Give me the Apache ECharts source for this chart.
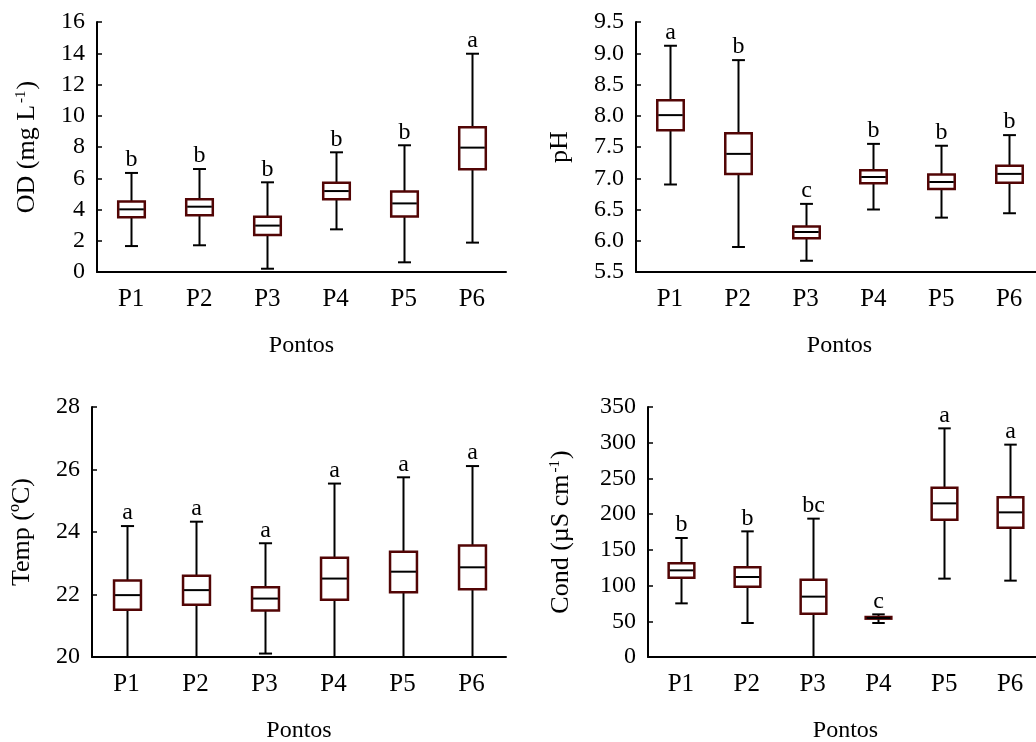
<!DOCTYPE html>
<html>
<head>
<meta charset="utf-8">
<script src="https://cdn.jsdelivr.net/npm/echarts@6/dist/echarts.min.js"></script>
<style>
html,body{margin:0;padding:0;background:#fff;}
#chart{width:1036px;height:742px;}
</style>
</head>
<body>
<div id="chart"></div>
<script>
// ---- data: [lower whisker, Q1, median, Q3, upper whisker] ----
const categories = ['P1', 'P2', 'P3', 'P4', 'P5', 'P6'];

const odBoxes = [
  [1.66, 3.50, 4.01, 4.52, 6.34],
  [1.71, 3.63, 4.18, 4.65, 6.59],
  [0.21, 2.37, 2.97, 3.54, 5.74],
  [2.73, 4.65, 5.18, 5.72, 7.66],
  [0.62, 3.56, 4.39, 5.16, 8.11],
  [1.88, 6.57, 7.96, 9.26, 13.97]
];
const odLetters = ['b', 'b', 'b', 'b', 'b', 'a'];
const odTicks = { min: 0, max: 16, interval: 2 };

const phBoxes = [
  [6.90, 7.77, 8.01, 8.25, 9.12],
  [5.90, 7.07, 7.39, 7.72, 8.89],
  [5.68, 6.04, 6.14, 6.23, 6.59],
  [6.50, 6.92, 7.02, 7.13, 7.55],
  [6.37, 6.83, 6.94, 7.06, 7.52],
  [6.44, 6.93, 7.07, 7.20, 7.69]
];
const phLetters = ['a', 'b', 'c', 'b', 'b', 'b'];
const phTicks = { min: 5.5, max: 9.5, interval: 0.5 };

const tempBoxes = [
  [20.00, 21.51, 21.98, 22.45, 24.19],
  [20.00, 21.67, 22.14, 22.60, 24.33],
  [20.11, 21.49, 21.87, 22.23, 23.64],
  [20.00, 21.83, 22.51, 23.18, 25.55],
  [20.00, 22.07, 22.73, 23.37, 25.75],
  [20.00, 22.17, 22.87, 23.57, 26.11]
];
const tempLetters = ['a', 'a', 'a', 'a', 'a', 'a'];
const tempTicks = { min: 20, max: 28, interval: 2 };

const condBoxes = [
  [75.1, 111.1, 121.3, 131.1, 166.6],
  [47.6, 98.5, 112.0, 125.5, 175.9],
  [0.0, 60.7, 84.5, 108.3, 193.7],
  [47.6, 53.7, 54.6, 56.0, 59.7],
  [109.7, 192.3, 215.1, 237.1, 320.1],
  [106.9, 181.1, 202.5, 223.5, 297.3]
];
const condLetters = ['b', 'b', 'bc', 'c', 'a', 'a'];
const condTicks = { min: 0, max: 350, interval: 50 };

// ---- chart ----
const FONT = "'Liberation Serif', 'Times New Roman', serif";
const BOX_COLOR = '#520505';

const panels = [
  { boxes: odBoxes, letters: odLetters, ticks: odTicks, dec: 0,
    name: '{a|OD (mg L}{s|-1}{a|)}', nameGap: 57,
    grid: { left: 97, top: 22, width: 409, height: 250 } },
  { boxes: phBoxes, letters: phLetters, ticks: phTicks, dec: 1,
    name: '{a|pH}', nameGap: 63,
    grid: { left: 636, top: 22, width: 407, height: 250 } },
  { boxes: tempBoxes, letters: tempLetters, ticks: tempTicks, dec: 0,
    name: '{a|Temp (ºC)}', nameGap: 57,
    grid: { left: 92, top: 407, width: 414, height: 250 } },
  { boxes: condBoxes, letters: condLetters, ticks: condTicks, dec: 0,
    name: '{a|Cond (µS cm}{s|-1}{a|)}', nameGap: 74,
    grid: { left: 648, top: 407, width: 395, height: 250 } }
];

const grids = [], xAxes = [], yAxes = [], series = [];

panels.forEach((p, i) => {
  grids.push(Object.assign({ containLabel: false, outerBoundsMode: 'none' }, p.grid));
  xAxes.push({
    type: 'category', gridIndex: i, data: categories,
    boundaryGap: true,
    name: 'Pontos', nameLocation: 'middle', nameGap: 62,
    nameTextStyle: { fontFamily: FONT, fontSize: 24, color: '#000' },
    axisLine: { lineStyle: { color: '#000', width: 2 } },
    axisTick: { inside: true, length: 5, alignWithLabel: true, lineStyle: { color: '#000', width: 1.5 } },
    axisLabel: { fontFamily: FONT, fontSize: 25, color: '#000', margin: 15 },
    splitLine: { show: false }
  });
  yAxes.push({
    type: 'value', gridIndex: i,
    min: p.ticks.min, max: p.ticks.max, interval: p.ticks.interval,
    name: p.name, nameLocation: 'middle', nameGap: p.nameGap,
    nameTextStyle: {
      fontFamily: FONT, fontSize: 26, color: '#000',
      rich: {
        a: { fontFamily: FONT, fontSize: 26, color: '#000' },
        s: { fontFamily: FONT, fontSize: 15, color: '#000', verticalAlign: 'top', padding: [0, 1, 0, 2] }
      }
    },
    axisLine: { show: true, lineStyle: { color: '#000', width: 2 } },
    axisTick: { show: true, inside: true, length: 5, lineStyle: { color: '#000', width: 1.5 } },
    axisLabel: {
      fontFamily: FONT, fontSize: 24, color: '#000', margin: 12,
      formatter: (v) => v.toFixed(p.dec)
    },
    splitLine: { show: false }
  });

  const data = p.boxes.map((b, k) => [k, b[0], b[1], b[2], b[3], b[4]]);
  series.push({
    type: 'custom', xAxisIndex: i, yAxisIndex: i,
    data: data,
    encode: { x: 0, y: [1, 2, 3, 4, 5] },
    clip: false,
    renderItem: function (params, api) {
      const x = api.value(0);
      const lo = api.coord([x, api.value(1)]);
      const q1 = api.coord([x, api.value(2)]);
      const md = api.coord([x, api.value(3)]);
      const q3 = api.coord([x, api.value(4)]);
      const hi = api.coord([x, api.value(5)]);
      const letter = p.letters[params.dataIndex];
      const band = api.size([1, 0])[0];
      const bw = band * 0.39;
      const cw = band * 0.19;
      const cx = Math.round(lo[0]) + 0.5;
      const lineStyle = { stroke: '#000', lineWidth: 2 };
      return {
        type: 'group',
        children: [
          { type: 'line', shape: { x1: cx, y1: q3[1], x2: cx, y2: hi[1] }, style: lineStyle },
          { type: 'line', shape: { x1: cx, y1: lo[1], x2: cx, y2: q1[1] }, style: lineStyle },
          { type: 'line', shape: { x1: cx - cw / 2, y1: hi[1], x2: cx + cw / 2, y2: hi[1] }, style: lineStyle },
          { type: 'line', shape: { x1: cx - cw / 2, y1: lo[1], x2: cx + cw / 2, y2: lo[1] }, style: lineStyle },
          { type: 'rect', shape: { x: cx - bw / 2, y: q3[1], width: bw, height: q1[1] - q3[1] },
            style: { fill: '#fff', stroke: BOX_COLOR, lineWidth: 2.5 } },
          { type: 'line', shape: { x1: cx - bw / 2 + 1, y1: md[1], x2: cx + bw / 2 - 1, y2: md[1] }, style: lineStyle },
          { type: 'text', x: cx, y: hi[1] - 1,
            style: { text: letter, align: 'center', verticalAlign: 'bottom',
                     fontFamily: FONT, fontSize: 24, fill: '#000' } }
        ]
      };
    }
  });
});

const chart = echarts.init(document.getElementById('chart'), null, { renderer: 'canvas' });
chart.setOption({
  animation: false,
  backgroundColor: '#fff',
  grid: grids,
  xAxis: xAxes,
  yAxis: yAxes,
  series: series
});
</script>
</body>
</html>
